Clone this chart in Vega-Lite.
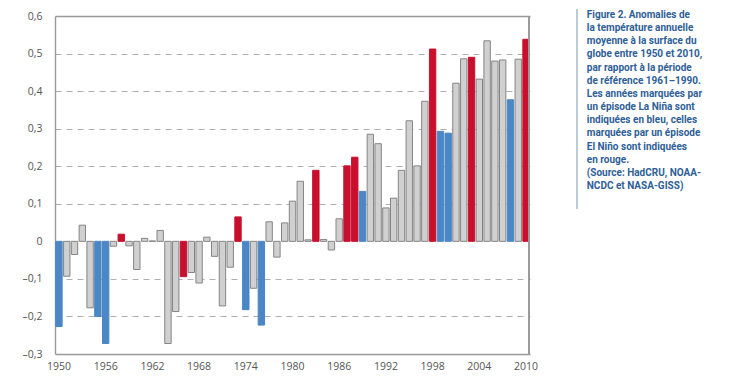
{
  "$schema": "https://vega.github.io/schema/vega-lite/v6.json",
  "padding": {"left": 22, "top": 8, "right": 5, "bottom": 5},
  "background": "white",
  "config": {
    "locale": {"number": {"decimal": ",", "thousands": " ", "grouping": [3], "currency": ["", " €"], "minus": "–"}},
    "font": "Open Sans",
    "view": {"stroke": null},
    "concat": {"spacing": 38}
  },
  "datasets": {
    "temps": [
      {"year": 1950, "anomaly": -0.227, "episode": "La Niña"},
      {"year": 1951, "anomaly": -0.093, "episode": "neutre"},
      {"year": 1952, "anomaly": -0.035, "episode": "neutre"},
      {"year": 1953, "anomaly": 0.043, "episode": "neutre"},
      {"year": 1954, "anomaly": -0.177, "episode": "neutre"},
      {"year": 1955, "anomaly": -0.2, "episode": "La Niña"},
      {"year": 1956, "anomaly": -0.272, "episode": "La Niña"},
      {"year": 1957, "anomaly": -0.013, "episode": "neutre"},
      {"year": 1958, "anomaly": 0.019, "episode": "El Niño"},
      {"year": 1959, "anomaly": -0.012, "episode": "neutre"},
      {"year": 1960, "anomaly": -0.075, "episode": "neutre"},
      {"year": 1961, "anomaly": 0.008, "episode": "neutre"},
      {"year": 1962, "anomaly": 0.001, "episode": "neutre"},
      {"year": 1963, "anomaly": 0.029, "episode": "neutre"},
      {"year": 1964, "anomaly": -0.272, "episode": "neutre"},
      {"year": 1965, "anomaly": -0.187, "episode": "neutre"},
      {"year": 1966, "anomaly": -0.094, "episode": "El Niño"},
      {"year": 1967, "anomaly": -0.083, "episode": "neutre"},
      {"year": 1968, "anomaly": -0.111, "episode": "neutre"},
      {"year": 1969, "anomaly": 0.011, "episode": "neutre"},
      {"year": 1970, "anomaly": -0.04, "episode": "neutre"},
      {"year": 1971, "anomaly": -0.172, "episode": "neutre"},
      {"year": 1972, "anomaly": -0.069, "episode": "neutre"},
      {"year": 1973, "anomaly": 0.065, "episode": "El Niño"},
      {"year": 1974, "anomaly": -0.182, "episode": "La Niña"},
      {"year": 1975, "anomaly": -0.125, "episode": "neutre"},
      {"year": 1976, "anomaly": -0.223, "episode": "La Niña"},
      {"year": 1977, "anomaly": 0.052, "episode": "neutre"},
      {"year": 1978, "anomaly": -0.042, "episode": "neutre"},
      {"year": 1979, "anomaly": 0.049, "episode": "neutre"},
      {"year": 1980, "anomaly": 0.107, "episode": "neutre"},
      {"year": 1981, "anomaly": 0.16, "episode": "neutre"},
      {"year": 1982, "anomaly": 0.004, "episode": "neutre"},
      {"year": 1983, "anomaly": 0.189, "episode": "El Niño"},
      {"year": 1984, "anomaly": 0.005, "episode": "neutre"},
      {"year": 1985, "anomaly": -0.023, "episode": "neutre"},
      {"year": 1986, "anomaly": 0.06, "episode": "neutre"},
      {"year": 1987, "anomaly": 0.201, "episode": "El Niño"},
      {"year": 1988, "anomaly": 0.224, "episode": "El Niño"},
      {"year": 1989, "anomaly": 0.133, "episode": "La Niña"},
      {"year": 1990, "anomaly": 0.285, "episode": "neutre"},
      {"year": 1991, "anomaly": 0.26, "episode": "neutre"},
      {"year": 1992, "anomaly": 0.089, "episode": "neutre"},
      {"year": 1993, "anomaly": 0.115, "episode": "neutre"},
      {"year": 1994, "anomaly": 0.189, "episode": "neutre"},
      {"year": 1995, "anomaly": 0.321, "episode": "neutre"},
      {"year": 1996, "anomaly": 0.201, "episode": "neutre"},
      {"year": 1997, "anomaly": 0.373, "episode": "neutre"},
      {"year": 1998, "anomaly": 0.512, "episode": "El Niño"},
      {"year": 1999, "anomaly": 0.293, "episode": "La Niña"},
      {"year": 2000, "anomaly": 0.288, "episode": "La Niña"},
      {"year": 2001, "anomaly": 0.421, "episode": "neutre"},
      {"year": 2002, "anomaly": 0.486, "episode": "neutre"},
      {"year": 2003, "anomaly": 0.49, "episode": "El Niño"},
      {"year": 2004, "anomaly": 0.432, "episode": "neutre"},
      {"year": 2005, "anomaly": 0.534, "episode": "neutre"},
      {"year": 2006, "anomaly": 0.48, "episode": "neutre"},
      {"year": 2007, "anomaly": 0.483, "episode": "neutre"},
      {"year": 2008, "anomaly": 0.377, "episode": "La Niña"},
      {"year": 2009, "anomaly": 0.485, "episode": "neutre"},
      {"year": 2010, "anomaly": 0.538, "episode": "El Niño"}
    ],
    "caption": [
      {"line": 1, "text": "Figure 2. Anomalies de", "style": "normal"},
      {"line": 2, "text": "la température annuelle", "style": "normal"},
      {"line": 3, "text": "moyenne à la surface du", "style": "normal"},
      {"line": 4, "text": "globe entre 1950 et 2010,", "style": "normal"},
      {"line": 5, "text": "par rapport à la période", "style": "normal"},
      {"line": 6, "text": "de référence 1961–1990.", "style": "normal"},
      {"line": 7, "text": "Les années marquées par", "style": "normal"},
      {"line": 8, "text": "un épisode La Niña sont", "style": "normal"},
      {"line": 9, "text": "indiquées en bleu, celles", "style": "normal"},
      {"line": 10, "text": "marquées par un épisode", "style": "normal"},
      {"line": 11, "text": "El Niño sont indiquées", "style": "normal"},
      {"line": 12, "text": "en rouge.", "style": "normal"},
      {"line": 13, "text": "(Source: HadCRU, NOAA-", "style": "italic"},
      {"line": 14, "text": "NCDC et NASA-GISS)", "style": "italic"}
    ]
  },
  "hconcat": [
    {
      "data": {"name": "temps"},
      "width": 475,
      "height": 338,
      "layer": [
        {
          "mark": {"type": "bar", "strokeWidth": 1},
          "encoding": {
            "x": {
              "field": "year", "type": "ordinal",
              "scale": {"paddingInner": 0.18, "paddingOuter": 0.1},
              "axis": {
                "title": null, "values": [1950, 1956, 1962, 1968, 1974, 1980, 1986, 1992, 1998, 2004, 2010],
                "labelAngle": 0, "ticks": false, "domain": true, "domainColor": "#999999", "domainWidth": 1.4, "labelPadding": 7,
                "labelFont": "Open Sans", "labelFontSize": 10.5, "labelColor": "#555555"
              }
            },
            "y": {
              "field": "anomaly", "type": "quantitative",
              "scale": {"domain": [-0.3, 0.6], "nice": false},
              "axis": {
                "title": null, "values": [-0.3, -0.2, -0.1, 0, 0.1, 0.2, 0.3, 0.4, 0.5, 0.6],
                "format": ".1~f", "ticks": false, "domain": true, "domainColor": "#999999", "domainWidth": 1.4, "labelPadding": 13,
                "labelFont": "Open Sans", "labelFontSize": 10.5, "labelColor": "#555555", "labelOverlap": false,
                "gridColor": {"condition": {"test": "datum.value > 0.55", "value": "#999999"}, "value": "#b0b0b0"},
                "gridDash": {"condition": {"test": "datum.value > 0.55", "value": []}, "value": [6, 5]},
                "gridWidth": {"condition": {"test": "datum.value > 0.55", "value": 1.4}, "value": 1},
                "gridOpacity": {"condition": {"test": "abs(datum.value) < 0.001 || datum.value < -0.25", "value": 0}, "value": 1}
              }
            },
            "color": {
              "field": "episode", "type": "nominal", "legend": null,
              "scale": {"domain": ["neutre", "La Niña", "El Niño"], "range": ["#d0d0d0", "#4b87c5", "#c8102e"]}
            },
            "stroke": {
              "field": "episode", "type": "nominal", "legend": null,
              "scale": {"domain": ["neutre", "La Niña", "El Niño"], "range": ["#858585", "#4b87c5", "#c8102e"]}
            }
          }
        },
        {
          "mark": {"type": "rule", "color": "#999999", "strokeWidth": 1.4},
          "encoding": {"x": {"datum": 2010, "type": "ordinal", "bandPosition": 1}}
        }
      ]
    },
    {
      "data": {"name": "caption"},
      "width": 140,
      "height": 200,
      "encoding": {
        "y": {
          "field": "line", "type": "quantitative",
          "scale": {"domain": [16.28, 1.076], "nice": false, "zero": false},
          "axis": null
        }
      },
      "layer": [
        {
          "mark": {"type": "rule", "color": "#bcc8d6", "strokeWidth": 1.5},
          "encoding": {
            "x": {"datum": 0, "type": "quantitative", "scale": {"domain": [0, 1]}, "axis": null},
            "y": {"datum": 0.544, "type": "quantitative"},
            "y2": {"datum": 15.75}
          }
        },
        {
          "mark": {"type": "text", "align": "left", "baseline": "middle", "font": "Roboto", "fontSize": 10, "fontWeight": "bold", "color": "#2e6096"},
          "encoding": {
            "x": {"datum": 0.07, "type": "quantitative"},
            "text": {"field": "text"},
            "fontStyle": {"field": "style", "type": "nominal", "scale": null}
          }
        }
      ]
    }
  ]
}
